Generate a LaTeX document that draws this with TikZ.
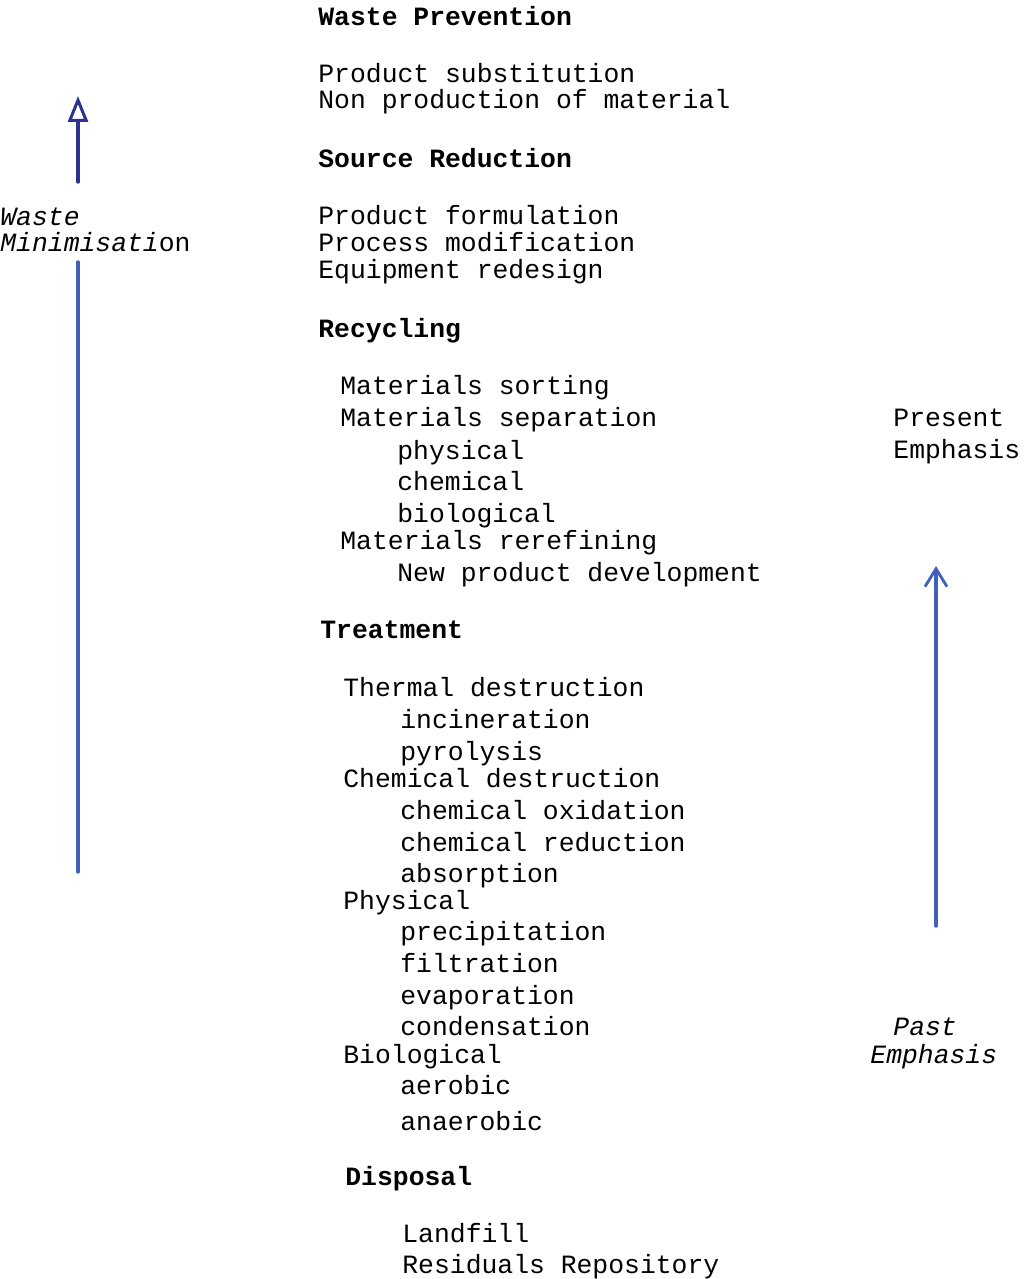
\documentclass[tikz,border=0pt]{standalone}
\usepackage{fontspec}
\setmonofont{Liberation Mono}
\usepackage{xcolor}
\usetikzlibrary{arrows.meta}
\definecolor{inkdark}{RGB}{42,52,140}
\definecolor{inklight}{RGB}{64,96,185}

\begin{document}
\begin{tikzpicture}[x=0.5pt, y=-0.5pt,
    every node/.style={font=\ttfamily\fontsize{13.2}{15}\selectfont, inner sep=0pt, anchor=base west},
    head/.style={font=\ttfamily\bfseries\fontsize{13.2}{15}\selectfont},
    note/.style={font=\ttfamily\itshape\fontsize{13.2}{15}\selectfont},
    ink/.style={line width=1.7pt, line cap=round}]
  \useasboundingbox (0,0) rectangle (1029,1279);

  % headings
  \node[head] (prev)  at (318,26)   {Waste Prevention};
  \node[head] (srcr)  at (318,167)  {Source Reduction};
  \node[head] (recy)  at (318,337)  {Recycling};
  \node[head] (treat) at (320,638)  {Treatment};
  \node[head] (disp)  at (345,1185) {Disposal};

  % waste prevention and source reduction
  \node (prev1) at (318,83)  {Product substitution};
  \node (prev2) at (318,109) {Non production of material};
  \node (src1)  at (318,224) {Product formulation};
  \node (src2)  at (318,251) {Process modification};
  \node (src3)  at (318,278) {Equipment redesign};

  % recycling
  \node (rec1) at (340,394) {Materials sorting};
  \node (rec2) at (340,426) {Materials separation};
  \foreach \y/\t [count=\i] in {459/physical, 490/chemical, 522/biological}
    \node (sep\i) at (397,\y) {\t};
  \node (rec3) at (340,549) {Materials rerefining};
  \node (rec4) at (397,581) {New product development};

  % treatment
  \node (thm) at (343,696) {Thermal destruction};
  \foreach \y/\t [count=\i] in {728/incineration, 760/pyrolysis}
    \node (thm\i) at (400,\y) {\t};
  \node (chm) at (343,787) {Chemical destruction};
  \foreach \y/\t [count=\i] in {819/chemical oxidation, 851/chemical reduction, 882/absorption}
    \node (chm\i) at (400,\y) {\t};
  \node (phy) at (343,909) {Physical};
  \foreach \y/\t [count=\i] in {940/precipitation, 972/filtration, 1004/evaporation, 1035/condensation}
    \node (phy\i) at (400,\y) {\t};
  \node (bio) at (343,1063) {Biological};
  \foreach \y/\t [count=\i] in {1094/aerobic, 1130/anaerobic}
    \node (bio\i) at (400,\y) {\t};

  % disposal
  \node (disp1) at (402,1242) {Landfill};
  \node (disp2) at (402,1273) {Residuals Repository};

  % side labels
  \node[note] (wm1) at (0,225) {Waste};
  \node       (wm2) at (0,251) {\textit{Minimisati}on};
  \node       (pres1) at (893,426) {Present};
  \node       (pres2) at (893,458) {Emphasis};
  \node[note] (past1) at (893,1035) {Past};
  \node[note] (past2) at (870,1063) {Emphasis};

  % hand drawn arrows
  \coordinate (wmTip) at (78,96);
  \coordinate (wmA)   at (78,182);
  \coordinate (wmB)   at (78,262);
  \coordinate (wmC)   at (78,872);
  \coordinate (emTip) at (936,566);
  \coordinate (emA)   at (936,926);
  \draw[ink, inkdark, -{Triangle[open, length=13pt, width=10pt, line width=1.5pt]}] (wmA) -- (wmTip);
  \draw[ink, inklight] (wmB) -- (wmC);
  \draw[ink, inklight, -{Straight Barb[length=9pt, width=11pt, line width=1.4pt]}] (emA) -- (emTip);
\end{tikzpicture}
\end{document}
